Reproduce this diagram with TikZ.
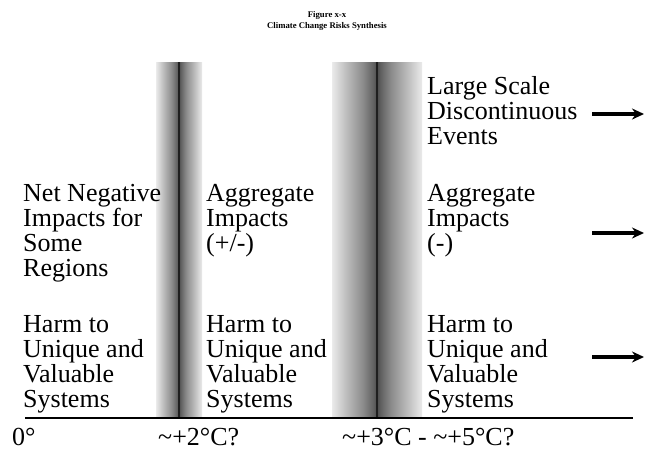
\documentclass[tikz,border=0pt]{standalone}
\usepackage{fontspec}
\setmainfont{Liberation Serif}
\usepackage{tikz}
\usetikzlibrary{positioning, arrows.meta}
\tikzstyle{risk} = [anchor=base west, align=left, inner sep=0pt, font=\fontsize{26}{25}\selectfont]
\tikzstyle{temp} = [anchor=base west, inner sep=0pt, font=\fontsize{26}{25}\selectfont]
\tikzstyle{title} = [align=center, inner sep=0pt, font=\bfseries\fontsize{8.7}{11.5}\selectfont]
\tikzstyle{arrow} = [line width=3.5pt,->,>={Stealth[length=12pt,width=11pt]}]
\tikzstyle{axis} = [line width=2.5pt]
\tikzstyle{core} = [line width=2.5pt, black!88]
\pgfdeclarehorizontalshading{tband}{100bp}{color(0bp)=(black!8); color(25bp)=(black!8); color(33bp)=(black!26); color(42bp)=(black!45); color(48bp)=(black!62); color(50bp)=(black!70); color(52bp)=(black!62); color(58bp)=(black!45); color(67bp)=(black!26); color(75bp)=(black!8); color(100bp)=(black!8)}

\begin{document}
\begin{tikzpicture}[x=1pt, y=-1pt]
\useasboundingbox (0,0) rectangle (645,450);
\fill[white] (0,0) rectangle (645,450);

\node (title) [title] at (327,21) {Figure x-x\\Climate Change Risks Synthesis};

% threshold bands
\shade[shading=tband] (156,62) rectangle (202,418);
\shade[shading=tband] (332,62) rectangle (422,418);
\coordinate (b2top) at (179,62);
\coordinate (b2bot) at (179,418);
\coordinate (b3top) at (377,62);
\coordinate (b3bot) at (377,418);
\draw [core] (b2top) -- (b2bot);
\draw [core] (b3top) -- (b3bot);

% temperature axis
\coordinate (ax0) at (25,418);
\coordinate (ax1) at (633,418);
\draw [axis] (ax0) -- (ax1);
\node (t0) [temp] at (12,445) {0°};
\node (t2) [temp] at (158,445) {\textasciitilde+2°C?};
\node (t35) [temp] at (342,445) {\textasciitilde+3°C - \textasciitilde+5°C?};

% risks, left to right (placed at the baseline of the last line)
\node (lsde) [risk] at (427,144) {Large Scale\\Discontinuous\\Events};
\node (nni) [risk] at (23,276) {Net Negative\\Impacts for\\Some\\Regions};
\node (agg2) [risk] at (206,251) {Aggregate\\Impacts\\(+/-)};
\node (agg3) [risk] at (427,251) {Aggregate\\Impacts\\(-)};
\node (harm0) [risk] at (23,407) {Harm to\\Unique and\\Valuable\\Systems};
\node (harm2) [risk] at (206,407) {Harm to\\Unique and\\Valuable\\Systems};
\node (harm3) [risk] at (427,407) {Harm to\\Unique and\\Valuable\\Systems};

% rising risk
\coordinate (r1s) at (592,114);
\coordinate (r1e) at (644,114);
\coordinate (r2s) at (592,233);
\coordinate (r2e) at (644,233);
\coordinate (r3s) at (592,357);
\coordinate (r3e) at (644,357);
\draw [arrow] (r1s) -- (r1e);
\draw [arrow] (r2s) -- (r2e);
\draw [arrow] (r3s) -- (r3e);
\end{tikzpicture}
\end{document}
